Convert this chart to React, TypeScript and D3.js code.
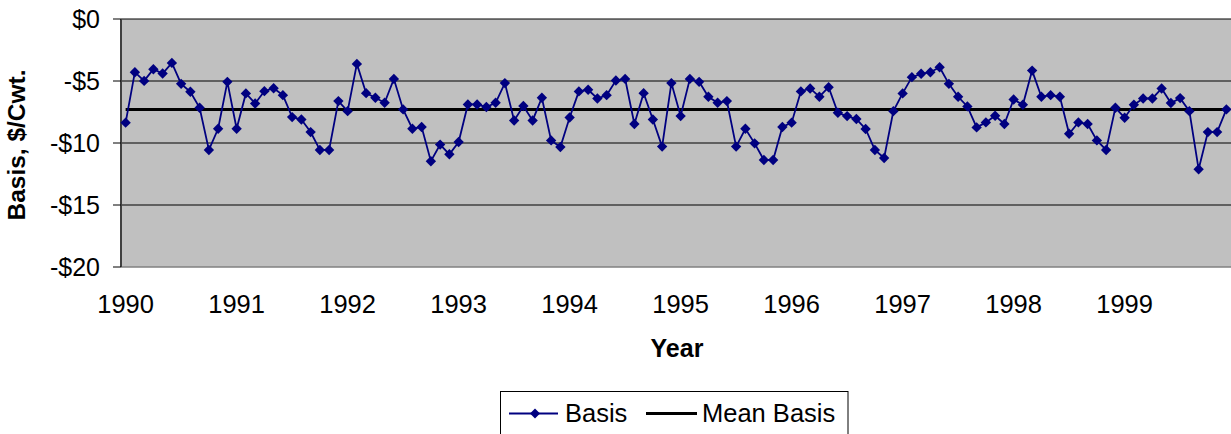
import React from "react";
import * as d3 from "d3";

const years = ["1990", "1991", "1992", "1993", "1994", "1995", "1996", "1997", "1998", "1999"];
const months = ["01", "02", "03", "04", "05", "06", "07", "08", "09", "10", "11", "12"];
const categories = years.flatMap((y) => months.map((m) => `${y}-${m}`));

const basis = [
  -8.36, -4.29, -4.99, -4.05, -4.4, -3.54, -5.23, -5.87, -7.16, -10.56, -8.85, -5.07,
  -8.85, -6.0, -6.81, -5.82, -5.58, -6.14, -7.91, -8.1, -9.12, -10.56, -10.56, -6.62,
  -7.43, -3.62, -5.98, -6.35, -6.76, -4.83, -7.29, -8.85, -8.71, -11.47, -10.13, -10.91,
  -9.92, -6.89, -6.89, -7.1, -6.76, -5.17, -8.18, -7.02, -8.18, -6.35, -9.79, -10.32,
  -7.94, -5.84, -5.71, -6.41, -6.14, -4.96, -4.83, -8.47, -5.98, -8.1, -10.29, -5.17,
  -7.83, -4.83, -5.07, -6.27, -6.76, -6.62, -10.29, -8.85, -10.03, -11.37, -11.37, -8.71,
  -8.36, -5.84, -5.6, -6.27, -5.5, -7.56, -7.83, -8.07, -8.87, -10.56, -11.21, -7.43,
  -6.0, -4.69, -4.42, -4.29, -3.89, -5.23, -6.27, -7.05, -8.74, -8.34, -7.8, -8.47,
  -6.49, -6.92, -4.16, -6.27, -6.14, -6.27, -9.25, -8.34, -8.47, -9.79, -10.56, -7.16,
  -7.96, -6.92, -6.41, -6.41, -5.6, -6.78, -6.38, -7.43, -12.12, -9.12, -9.12, -7.29,
];

const meanBasis = -7.3;
const yTicks = [0, -5, -10, -15, -20];

const W = 1231;
const H = 434;
const FONT = "'Liberation Sans', Arial, sans-serif";

export default function App() {
  const left = 121;
  const right = 1231;
  const top = 19;
  const bottom = 267;

  const x = d3.scaleBand<string>().domain(categories).range([left, right]).padding(0);
  const y = d3.scaleLinear().domain([-20, 0]).range([bottom, top]);
  const cx = (c: string) => (x(c) as number) + x.bandwidth() / 2;

  const line = d3
    .line<number>()
    .x((_, i) => cx(categories[i]))
    .y((d) => y(d));

  const diamond = (r: number) => `M0,${-r}L${r},0L0,${r}L${-r},0Z`;
  const fmt = (v: number) => (v < 0 ? `-$${Math.abs(v)}` : `$${v}`);

  return (
    <svg
      width={W}
      height={H}
      style={{ position: "absolute", left: 0, top: 0, background: "#fff" }}
      fontFamily={FONT}
    >
      {/* plot area */}
      <rect x={left} y={top} width={right - left} height={bottom - top} fill="#C0C0C0" />
      <line x1={left} x2={right} y1={bottom} y2={bottom} stroke="#808080" strokeWidth={1.5} />
      {yTicks
        .filter((t) => t > -20)
        .map((t) => (
          <line key={t} x1={left} x2={right} y1={y(t)} y2={y(t)} stroke="#000" strokeWidth={1} />
        ))}
      {/* y axis */}
      <line x1={left} x2={left} y1={top} y2={bottom} stroke="#404040" strokeWidth={2} />
      {yTicks.map((t) => (
        <g key={t}>
          <line x1={left - 8} x2={left} y1={y(t)} y2={y(t)} stroke="#000" strokeWidth={1} />
          <text x={100} y={y(t)} dy="0.35em" textAnchor="end" fontSize={25} fill="#000">
            {fmt(t)}
          </text>
        </g>
      ))}
      {/* x labels */}
      {years.map((yr) => (
        <text key={yr} x={cx(`${yr}-01`)} y={313} textAnchor="middle" fontSize={25.5} fill="#000">
          {yr}
        </text>
      ))}
      {/* mean line */}
      <line x1={cx(categories[0])} x2={cx(categories[categories.length - 1])} y1={y(meanBasis)} y2={y(meanBasis)} stroke="#000" strokeWidth={3} />
      {/* basis series */}
      <path d={line(basis) as string} fill="none" stroke="#000080" strokeWidth={1.8} />
      {basis.map((v, i) => (
        <path key={i} d={diamond(5.2)} transform={`translate(${cx(categories[i])},${y(v)})`} fill="#000080" />
      ))}
      {/* axis titles */}
      <text x={677} y={357} textAnchor="middle" fontSize={25} fontWeight="bold" fill="#000">
        Year
      </text>
      <text
        transform={`translate(25,${(top + bottom) / 2 + 2}) rotate(-90)`}
        textAnchor="middle"
        fontSize={24.5}
        fontWeight="bold"
        fill="#000"
      >
        Basis, $/Cwt.
      </text>
      {/* legend */}
      <rect x={500.5} y={391.5} width={347.5} height={50} fill="#fff" stroke="#000" strokeWidth={1} />
      <line x1={509} x2={558} y1={413.5} y2={413.5} stroke="#000080" strokeWidth={1.8} />
      <path d={diamond(5)} transform="translate(535,413.5)" fill="#000080" />
      <text x={565} y={422} fontSize={25.5} fill="#000">
        Basis
      </text>
      <line x1={646} x2={697} y1={413.5} y2={413.5} stroke="#000" strokeWidth={3} />
      <text x={702} y={422} fontSize={25.5} fill="#000">
        Mean Basis
      </text>
    </svg>
  );
}
